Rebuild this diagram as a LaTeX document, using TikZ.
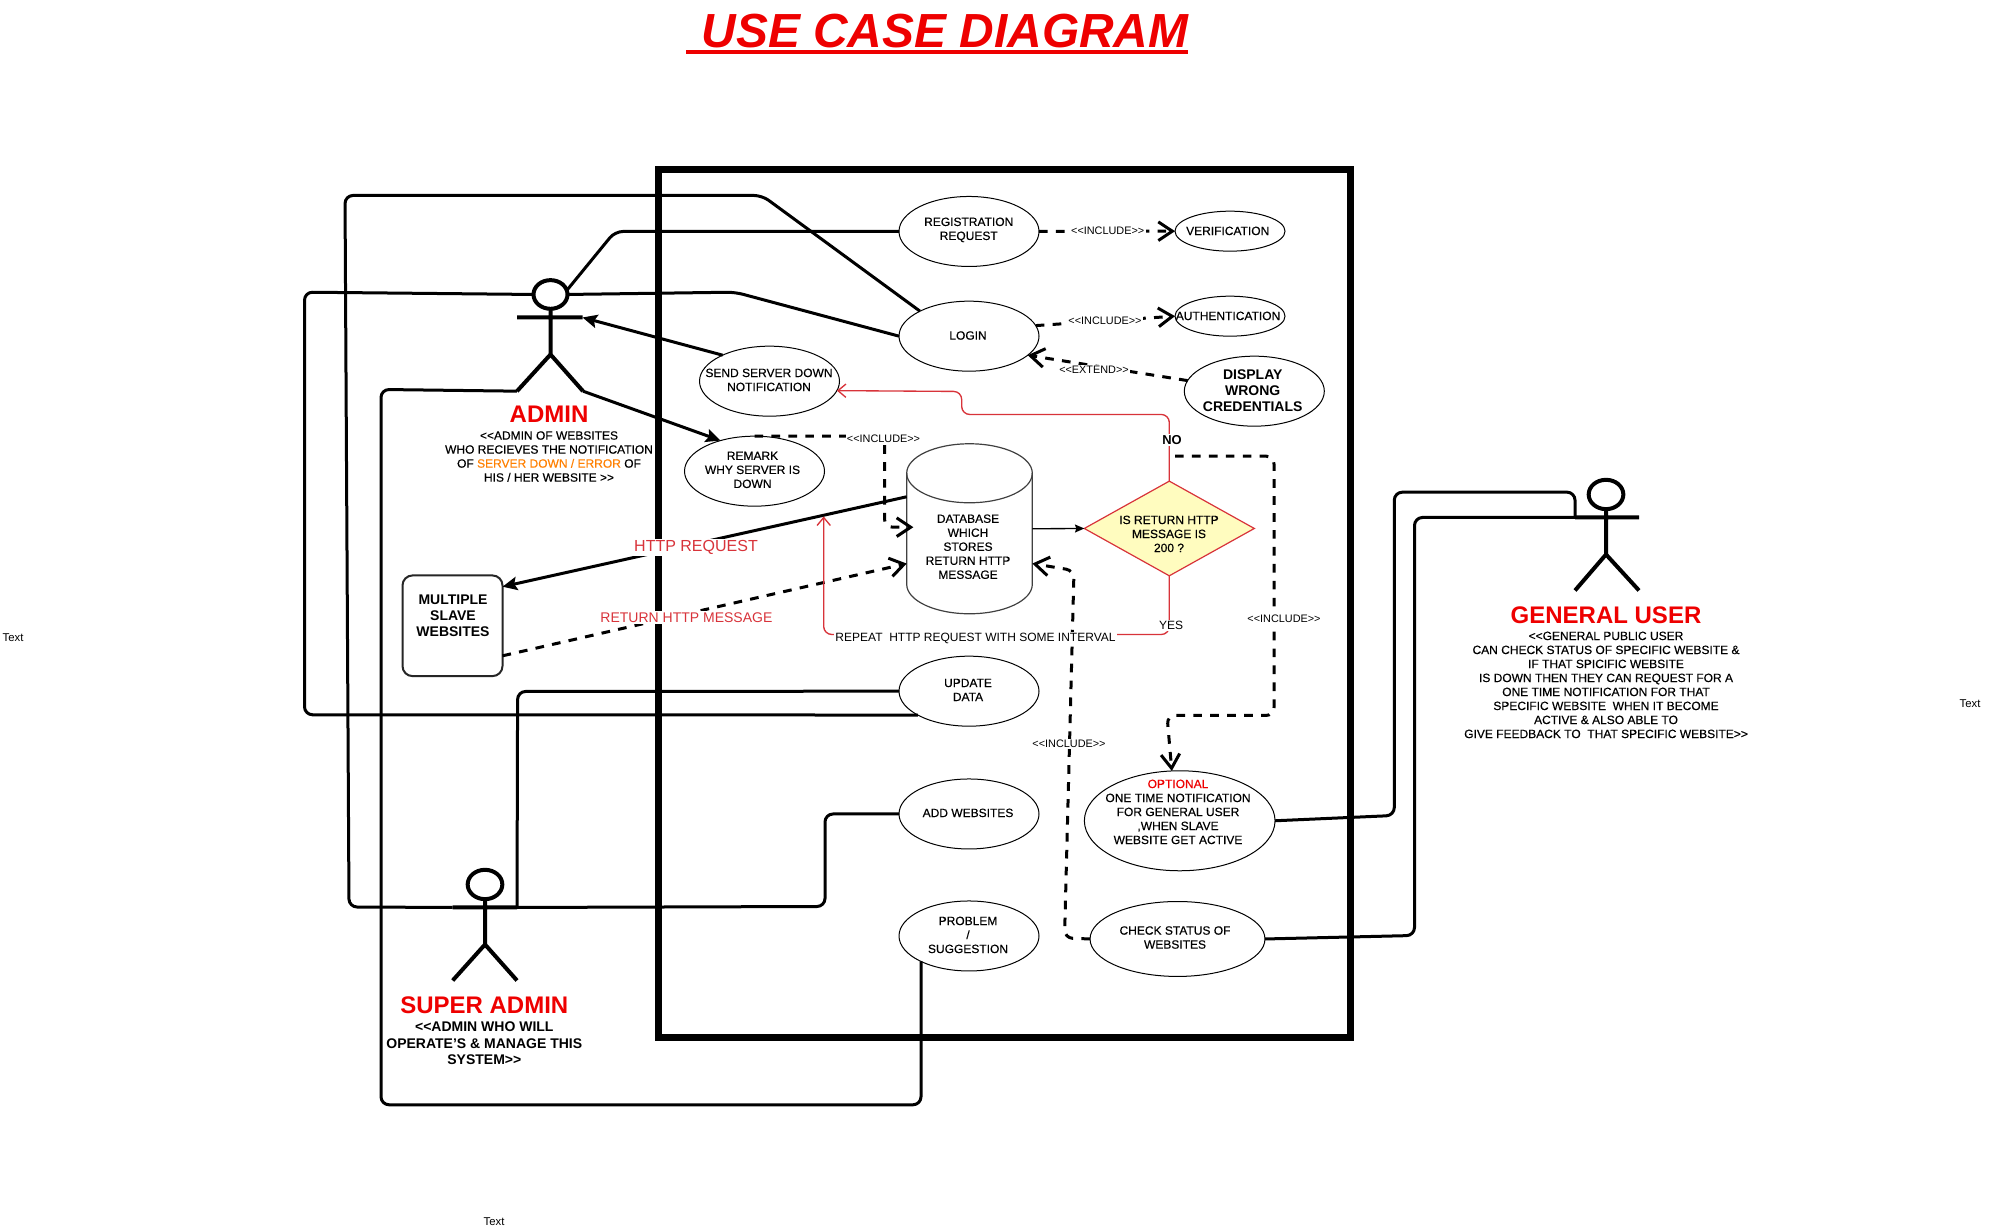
\documentclass[tikz,border=0pt]{standalone}
\usepackage{fontspec}
\setmainfont{Liberation Sans}
\newfontfamily\semifont{Liberation Sans}[FakeBold=0.35]
\usetikzlibrary{shapes.geometric,arrows.meta,calc}
\definecolor{tred}{HTML}{EE0000}
\definecolor{lred}{HTML}{D8333A}
\definecolor{oran}{HTML}{FF8000}
\definecolor{txt}{HTML}{000000}
\tikzset{
  usecase/.style={ellipse,draw=black,fill=white,line width=.75pt,inner sep=0pt,outer sep=0pt},
  bigcase/.style={usecase,minimum width=105pt,minimum height=52.5pt},
  smallcase/.style={usecase,minimum width=82.5pt,minimum height=30pt},
  lbl/.style={font=\semifont\fontsize{9}{10.5}\selectfont,text=txt,align=center,inner sep=0pt,outer sep=0pt,yshift=-.55pt},
  blbl/.style={font=\fontsize{10.5}{12}\selectfont\bfseries,text=txt,align=center,inner sep=0pt,outer sep=0pt,yshift=-.55pt},
  actorname/.style={font=\fontsize{18}{20}\selectfont\bfseries,text=tred,align=center,inner sep=0pt,yshift=-.55pt},
  edgelbl/.style={font=\fontsize{9}{10.5}\selectfont,text=txt,fill=white,inner sep=1pt,yshift=-.55pt},
  inclbl/.style={edgelbl,font=\fontsize{8.15}{10}\selectfont},
  redlbl/.style={text=lred,fill=white,inner sep=1.2pt,yshift=-.55pt},
  stick/.style={line width=3pt,draw=black},
  head/.style={ellipse,draw=black,line width=3pt,fill=white,inner sep=0pt,outer sep=0pt,minimum width=26pt,minimum height=22pt},
  conn/.style={line width=2.25pt,draw=black,rounded corners=6pt,line join=round},
  solidarrow/.style={conn,-{Stealth[length=11pt,width=10pt,inset=2pt]}},
  dashconn/.style={conn,dash pattern=on 6.5pt off 6.2pt},
  dasharrow/.style={dashconn,-{Straight Barb[length=10.5pt,width=14pt]}},
  redconn/.style={line width=1pt,draw=lred,rounded corners=6pt},
  redarrow/.style={redconn,-{Straight Barb[length=6pt,width=10pt]}},
}
\begin{document}
\begin{tikzpicture}[x=.75pt,y=-.75pt]
\useasboundingbox (0,0) rectangle (1990,1227);
\fill[white] (0,0) rectangle (1990,1227);
\begin{scope}[yshift=-.35pt]
% title
\node[font=\fontsize{35.9}{40}\selectfont\bfseries\itshape,text=tred,anchor=base,inner sep=0pt] (title) at (945,47) {USE CASE DIAGRAM};
\draw[line width=3pt,tred] (686,52) -- (1187.5,52);
% system boundary
\draw[line width=5.25pt,black] (658,169) rectangle (1350,1037.5);
% use cases
\node[bigcase] (reg) at (969,231) {};
\node[bigcase] (login) at (969,335.7) {};
\node[smallcase] (ver) at (1230,230.7) {};
\node[smallcase] (auth) at (1230,315.7) {};
\node[bigcase] (disp) at (1254.3,390.7) {};
\node[bigcase] (send) at (769.5,380.7) {};
\node[bigcase] (remark) at (754.5,470.7) {};
\node[bigcase] (update) at (969,690.7) {};
\node[bigcase] (addweb) at (969,813.5) {};
\node[bigcase] (problem) at (969,935.5) {};
\node[usecase,minimum width=143pt,minimum height=75pt] (optional) at (1179.7,820.3) {};
\node[usecase,minimum width=131.2pt,minimum height=56.2pt] (check) at (1177.5,938.5) {};
\node[diamond,draw=lred,fill=yellow!25!white,line width=.9pt,inner sep=0pt,outer sep=0pt,minimum width=127.5pt,minimum height=71pt] (decide) at (1169.3,528) {};
\node[draw=black!85,line width=1.5pt,rounded corners=7.5pt,inner sep=0pt,outer sep=0pt,minimum width=75pt,minimum height=75.5pt] (slave) at (452.5,625.3) {};
% database cylinder
\node[inner sep=0pt,outer sep=0pt,minimum width=94.2pt,minimum height=127.5pt] (db) at (969.5,528.3) {};
\draw[line width=.9pt,draw=black!75,fill=white] ($(db.north west)+(0,29.5)$) arc[start angle=180,end angle=360,x radius=62.8,y radius=29.5] -- ($(db.south east)+(0,-29.5)$) arc[start angle=0,end angle=180,x radius=62.8,y radius=29.5] -- cycle;
\draw[line width=.9pt,draw=black!75] ($(db.north west)+(0,29.5)$) arc[start angle=180,end angle=0,x radius=62.8,y radius=29.5];
% actors
\node[head,minimum width=25.5pt,minimum height=21.5pt] (adminHead) at (550.5,294) {};
\coordinate (adminArmL) at (517,317); \coordinate (adminArmR) at (582.5,317);
\coordinate (adminHip) at (550.5,354);
\coordinate (adminLegL) at (517,390.7); \coordinate (adminLegR) at (583,390.7);
\node[head] (superHead) at (485,884) {};
\coordinate (superArmL) at (452.7,907); \coordinate (superArmR) at (517,907);
\coordinate (superHip) at (485,944);
\coordinate (superLegL) at (452.7,980); \coordinate (superLegR) at (517,980);
\node[head] (genHead) at (1606,494) {};
\coordinate (genArmL) at (1575,517); \coordinate (genArmR) at (1639,517);
\coordinate (genHip) at (1606,554);
\coordinate (genLegL) at (1575,590); \coordinate (genLegR) at (1639,590);
\coordinate (noFork) at (1175,455.7);
% solid associations
\draw[conn] (adminHead.14) -- (615,231) -- (reg.west);
\draw[conn] (superArmL) -- (349,906.5) -- (345,195) -- (762,195) -- (login.153);
\draw[conn] (update.205) -- (304.5,714.3) -- (304.5,291.7) -- (adminHead.west);
\draw[conn] (adminHead.east) -- (735,291.7) -- (login.west);
\draw[conn] (adminLegL) -- (381,389) -- (381,1104.3) -- (921,1104.3) -- (problem.208);
\draw[conn] (superArmR) -- (517.6,691) -- (update.west);
\draw[conn] (superArmR) -- (825,906) -- (825,813.5) -- (addweb.west);
\draw[conn] (optional.east) -- (1394.3,815) -- (1394.3,491.7) -- (1575,491.7) -- (genArmL);
\draw[conn] (check.east) -- (1414.5,935) -- (1414.5,517) -- (genArmL);
\draw[solidarrow] (send.151) -- (adminArmR);
\draw[solidarrow] (adminLegR) -- (remark.138);
\draw[solidarrow] (db.153) -- (slave.38);
% dashed relations
\draw[dasharrow] (reg.east) -- (ver.west);
\draw[dasharrow] (login.9) -- (auth.west);
\draw[dasharrow] (disp.171) -- (login.-18);
\draw[dasharrow] (remark.north) -- (884.5,435.7) -- (884.5,526.7) -- ([xshift=5pt,yshift=1.2pt]db.west);
\draw[dasharrow] (slave.-31) -- (db.209);
\draw[dasharrow] (check.west) -- (1064.5,937.5) -- (1074,570) -- (db.-29);
\draw[dasharrow] (noFork) -- (1274,455.7) -- (1274,715) -- (1167,715) -- (optional.99);
% red flow and thin arrow
\draw[line width=1pt,draw=black,-{Stealth[length=7pt,width=6pt,inset=1pt]}] (db.east) -- (decide.west);
\draw[redarrow] (decide.north) -- (1169.3,414) -- (961.7,414) -- (961.7,391) -- (send.-8.75);
\draw[redarrow] (decide.south) -- (1169.3,634) -- (823.7,634) -- (823.7,516);
% actor figures
\draw[stick] (adminHead.south) -- (adminHip) -- (adminLegL) (adminHip) -- (adminLegR) (adminArmL) -- (adminArmR);
\draw[stick] (superHead.south) -- (superHip) -- (superLegL) (superHip) -- (superLegR) (superArmL) -- (superArmR);
\draw[stick] (genHead.south) -- (genHip) -- (genLegL) (genHip) -- (genLegR) (genArmL) -- (genArmR);
% use-case texts
\node[lbl] (regT) at (968.7,228.7) {REGISTRATION\\REQUEST};
\node[lbl] (loginT) at (968,334.3) {LOGIN};
\node[lbl] (verT) at (1227.7,229.7) {VERIFICATION};
\node[lbl] (authT) at (1228,314.7) {AUTHENTICATION};
\node[blbl] (dispT) at (1252.7,389) {DISPLAY\\WRONG\\CREDENTIALS};
\node[lbl] (sendT) at (769,378.7) {SEND SERVER DOWN\\NOTIFICATION};
\node[lbl] (remarkT) at (752.5,468.7) {REMARK\\WHY SERVER IS\\DOWN};
\node[lbl] (dbT) at (968,545.5) {DATABASE\\WHICH\\STORES\\RETURN HTTP\\MESSAGE};
\node[lbl] (decideT) at (1169,532.7) {IS RETURN HTTP\\MESSAGE IS\\200 ?};
\node[lbl] (updateT) at (968,688.7) {UPDATE\\DATA};
\node[lbl] (addT) at (968,811.7) {ADD WEBSITES};
\node[lbl] (problemT) at (968,933.7) {PROBLEM\\/\\SUGGESTION};
\node[lbl] (optionalT) at (1178,810.7) {\textcolor{tred}{OPTIONAL}\\ONE TIME NOTIFICATION\\FOR GENERAL USER\\,WHEN SLAVE\\WEBSITE GET ACTIVE};
\node[lbl] (checkT) at (1175,936.3) {CHECK STATUS OF\\WEBSITES};
\node[blbl] (slaveT) at (453,615) {MULTIPLE\\SLAVE\\WEBSITES};
% edge labels
\node[inclbl] (inc1) at (1107.7,230) {<{}<INCLUDE>{}>};
\node[inclbl] (inc2) at (1105,320) {<{}<INCLUDE>{}>};
\node[inclbl] (ext1) at (1094,369) {<{}<EXTEND>{}>};
\node[inclbl] (inc3) at (883.5,438) {<{}<INCLUDE>{}>};
\node[inclbl] (inc4) at (1284,618) {<{}<INCLUDE>{}>};
\node[inclbl] (inc5) at (1069,743) {<{}<INCLUDE>{}>};
\node[redlbl,font=\fontsize{12}{14}\selectfont] (httpL) at (696,546) {HTTP REQUEST};
\node[redlbl,font=\fontsize{10.5}{12}\selectfont] (retL) at (686.4,616) {RETURN HTTP MESSAGE};
\node[edgelbl] (repL) at (975.5,637.7) {REPEAT\ \ HTTP REQUEST WITH SOME INTERVAL};
\node[edgelbl,font=\fontsize{9.7}{11}\selectfont\bfseries] (noL) at (1172,439) {NO};
\node[edgelbl] (yesL) at (1171,624.3) {YES};
% actor texts
\node[actorname] (adminN) at (549,413) {ADMIN};
\node[lbl] (adminS) at (549,455.3) {<{}<ADMIN OF WEBSITES\\WHO RECIEVES THE NOTIFICATION\\OF \textcolor{oran}{SERVER DOWN / ERROR} OF\\HIS / HER WEBSITE >{}>};
\node[actorname] (superN) at (484.3,1003.7) {SUPER ADMIN};
\node[blbl,font=\fontsize{10.5}{12.2}\selectfont\bfseries] (superS) at (484.3,1042) {<{}<ADMIN WHO WILL\\OPERATE'S \& MANAGE THIS\\SYSTEM>{}>};
\node[actorname] (genN) at (1606,613.7) {GENERAL USER};
\node[lbl] (genS) at (1606,683.7) {<{}<GENERAL PUBLIC USER\\CAN CHECK STATUS OF SPECIFIC WEBSITE \&\\IF THAT SPICIFIC WEBSITE\\IS DOWN THEN THEY CAN REQUEST FOR A\\ONE TIME NOTIFICATION FOR THAT\\SPECIFIC WEBSITE\ \ WHEN IT BECOME\\ACTIVE \& ALSO ABLE TO\\GIVE FEEDBACK TO\ \ THAT SPECIFIC WEBSITE>{}>};
% stray texts
\node[lbl,font=\fontsize{8.5}{10}\selectfont] (t1) at (13,636) {Text};
\node[lbl,font=\fontsize{8.5}{10}\selectfont] (t2) at (1970,702) {Text};
\node[lbl,font=\fontsize{8.5}{10}\selectfont] (t3) at (494,1220.7) {Text};
\end{scope}
\end{tikzpicture}
\end{document}
